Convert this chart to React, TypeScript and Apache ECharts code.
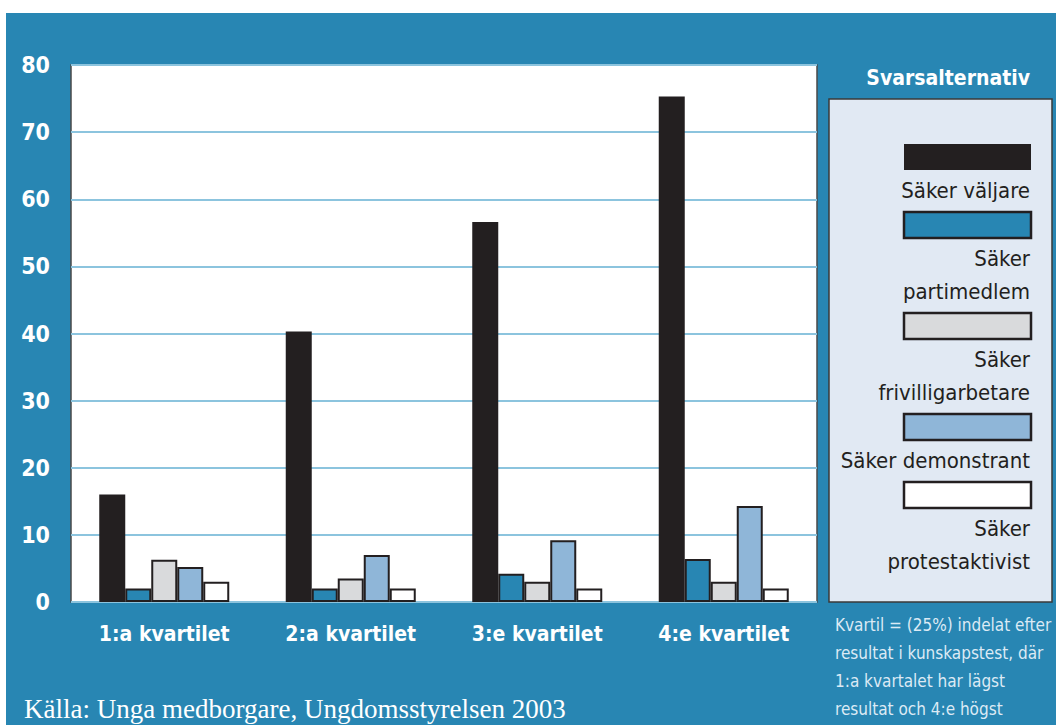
import React, { useEffect, useRef } from "react";
import * as echarts from "echarts";

const categories = ["1:a kvartilet", "2:a kvartilet", "3:e kvartilet", "4:e kvartilet"];
const seriesNames = ["Säker väljare", "Säker partimedlem", "Säker frivilligarbetare", "Säker demonstrant", "Säker protestaktivist"];
const legendLabels = ["Säker väljare", "Säker\npartimedlem", "Säker\nfrivilligarbetare", "Säker demonstrant", "Säker\nprotestaktivist"];
const valjare = [16, 40.3, 56.6, 75.3];
const partimedlem = [2, 2, 4.2, 6.4];
const frivillig = [6.3, 3.5, 3, 3];
const demonstrant = [5.2, 7, 9.2, 14.3];
const protest = [3, 2, 2, 2];
const seriesValues = [valjare, partimedlem, frivillig, demonstrant, protest];
const yTicks = [0, 80, 10];
const legendTitle = "Svarsalternativ";
const noteText = "Kvartil = (25%) indelat efter\nresultat i kunskapstest, där\n1:a kvartalet har lägst\nresultat och 4:e högst";
const sourceText = "Källa: Unga medborgare, Ungdomsstyrelsen 2003";

const COLORS = ["#231f20", "#2886b3", "#d9dadc", "#8fb6d8", "#ffffff"];
const BG = "#2886b3";
const NARROW = "'Liberation Sans Narrow', 'DejaVu Sans Condensed', 'Arial Narrow', sans-serif";

export default function App() {
  const ref = useRef<HTMLDivElement>(null);
  useEffect(() => {
    if (!ref.current) return;
    const chart = echarts.init(ref.current, null, { renderer: "svg" });

    const legendEls: any[] = [];
    let y = 144;
    legendLabels.forEach((lab, i) => {
      const lines = lab.split("\n").length;
      legendEls.push({
        type: "rect",
        z: 20,
        shape: { x: 904, y, width: 127, height: 26 },
        style: {
          fill: COLORS[i],
          stroke: i === 0 ? null : "#231f20",
          lineWidth: i === 0 ? 0 : 2.5,
        },
      });
      const firstCenter = y + 26 + 20;
      legendEls.push({
        type: "text",
        z: 20,
        x: 1030,
        y: firstCenter - 16.5,
        style: {
          text: lab,
          fill: "#231f20",
          font: `22px ${NARROW}`,
          align: "right",
          verticalAlign: "top",
          lineHeight: 33,
        },
      });
      y = firstCenter + (lines - 1) * 33 + 22;
    });

    const option: any = {
      animation: false,
      backgroundColor: "#ffffff",
      grid: {
        left: 71,
        top: 65,
        width: 746,
        height: 537,
        show: true,
        backgroundColor: "#ffffff",
        borderColor: "#4a4a4a",
        borderWidth: 1.5,
        z: 1,
      },
      xAxis: {
        type: "category",
        data: categories,
        z: 3,
        axisLine: { show: false },
        axisTick: { show: false },
        axisLabel: {
          interval: 0,
          color: "#ffffff",
          fontFamily: NARROW,
          fontWeight: "bold",
          fontSize: 21,
          margin: 21,
        },
      },
      yAxis: {
        type: "value",
        min: yTicks[0],
        max: yTicks[1],
        interval: yTicks[2],
        z: 3,
        axisLine: { show: false },
        axisTick: { show: false },
        splitLine: { show: true, lineStyle: { color: "#8cc4de", width: 2 } },
        axisLabel: {
          color: "#ffffff",
          fontFamily: NARROW,
          fontWeight: "bold",
          fontSize: 23,
          margin: 21,
        },
      },
      series: seriesNames.map((name, i) => ({
        name,
        type: "bar",
        z: 4,
        data: seriesValues[i],
        barWidth: 26,
        barGap: "0%",
        itemStyle: {
          color: COLORS[i],
          borderColor: "#231f20",
          borderWidth: i === 0 ? 0 : 2,
        },
      })),
      graphic: [
        {
          type: "rect",
          z: 0,
          zlevel: 0,
          shape: { x: 6, y: 13, width: 1060, height: 720 },
          style: { fill: BG },
          silent: true,
        },
        {
          type: "rect",
          z: 10,
          shape: { x: 829, y: 99, width: 223, height: 503 },
          style: { fill: "#e1e9f3", stroke: "#3a3a3a", lineWidth: 1.5 },
        },
        {
          type: "text",
          z: 10,
          x: 1030,
          y: 78,
          style: {
            text: legendTitle,
            fill: "#ffffff",
            font: `bold 21px ${NARROW}`,
            align: "right",
            verticalAlign: "middle",
          },
        },
        ...legendEls,
        {
          type: "text",
          z: 10,
          x: 835,
          y: 611,
          style: {
            text: noteText,
            fill: "#dceaf5",
            font: `17px ${NARROW}`,
            align: "left",
            verticalAlign: "top",
            lineHeight: 28,
          },
        },
        {
          type: "text",
          z: 10,
          x: 24,
          y: 709,
          style: {
            text: sourceText,
            fill: "#ffffff",
            font: `27px 'Liberation Serif', 'DejaVu Serif', serif`,
            align: "left",
            verticalAlign: "middle",
          },
        },
      ],
    };
    chart.setOption(option);
    return () => chart.dispose();
  }, []);
  return (
    <div
      ref={ref}
      style={{ position: "fixed", left: 0, top: 0, width: 1056, height: 725 }}
    />
  );
}
